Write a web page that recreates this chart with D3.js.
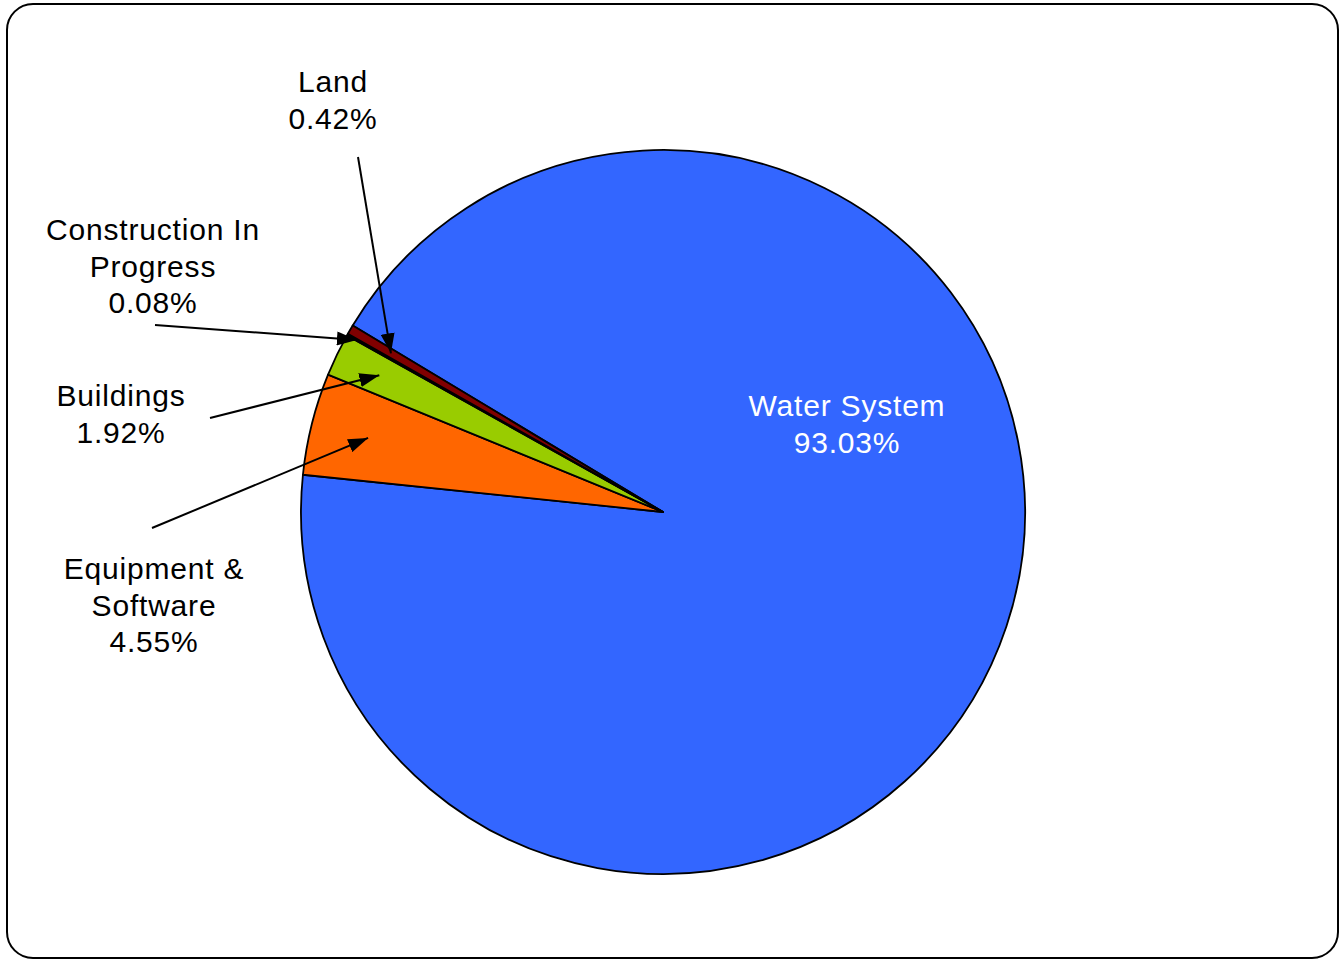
<!DOCTYPE html>
<html>
<head>
<meta charset="utf-8">
<script src="https://cdn.jsdelivr.net/npm/d3@7"></script>
<style>
  body { margin: 0; background: #fff; }
  text { font-family: "Liberation Sans", Arial, sans-serif; }
</style>
</head>
<body>
<div class="graph"></div>
<script>
const categories = ["Water System", "Equipment & Software", "Buildings", "Construction In Progress", "Land"];
const values = [93.03, 4.55, 1.92, 0.08, 0.42];
const colors = ["#3366FF", "#FF6600", "#99CC00", "#000000", "#800000"];

// label lines and anchors (layout only)
const labelLines = [
  ["Water System", "93.03%"],
  ["Equipment &", "Software", "4.55%"],
  ["Buildings", "1.92%"],
  ["Construction In", "Progress", "0.08%"],
  ["Land", "0.42%"]
];
const labelPos = [[847, 416], [154, 579], [121, 406], [153, 240], [333, 92]];
const leaderFrom = [null, [152, 528], [210, 418], [155, 325], [358, 157]];
const leaderDepth = [0, 0.84, 0.87, 0.97, 0.87];

const dimensions = { width: 1343, height: 961, cx: 663, cy: 512, r: 362 };

const svg = d3.select(".graph")
    .append("svg")
    .attr("width", dimensions.width)
    .attr("height", dimensions.height);

svg.append("defs").append("marker")
    .attr("id", "arrow")
    .attr("viewBox", "0 0 20 14")
    .attr("refX", 20)
    .attr("refY", 7)
    .attr("markerWidth", 20)
    .attr("markerHeight", 14)
    .attr("markerUnits", "userSpaceOnUse")
    .attr("orient", "auto")
    .append("path")
    .attr("d", "M0,0 L20,7 L0,14 Z")
    .attr("fill", "#000");

svg.append("rect")
    .attr("x", 7).attr("y", 4)
    .attr("width", 1331).attr("height", 954)
    .attr("rx", 26).attr("ry", 26)
    .attr("fill", "#fff")
    .attr("stroke", "#000")
    .attr("stroke-width", 2);

const deg = Math.PI / 180;
const pie = d3.pie()
    .sort(null)
    .startAngle(-59 * deg)
    .endAngle(301 * deg);

const arcs = pie(values);
const arc = d3.arc().innerRadius(0).outerRadius(dimensions.r);

const g = svg.append("g")
    .attr("transform", `translate(${dimensions.cx}, ${dimensions.cy})`);

g.selectAll("path.slice")
    .data(arcs)
    .enter()
    .append("path")
    .attr("class", "slice")
    .attr("d", arc)
    .attr("fill", (d, i) => colors[i])
    .attr("stroke", "#000")
    .attr("stroke-width", 1.8)
    .attr("stroke-linejoin", "round");

// leader arrows
arcs.forEach((d, i) => {
  if (!leaderFrom[i]) return;
  const a = (d.startAngle + d.endAngle) / 2;
  const rr = dimensions.r * leaderDepth[i];
  const tx = dimensions.cx + rr * Math.sin(a);
  const ty = dimensions.cy - rr * Math.cos(a);
  svg.append("line")
      .attr("x1", leaderFrom[i][0]).attr("y1", leaderFrom[i][1])
      .attr("x2", tx).attr("y2", ty)
      .attr("stroke", "#000")
      .attr("stroke-width", 2)
      .attr("marker-end", "url(#arrow)");
});

// labels
labelLines.forEach((lines, i) => {
  const t = svg.append("text")
      .attr("x", labelPos[i][0])
      .attr("y", labelPos[i][1])
      .attr("text-anchor", "middle")
      .attr("font-size", 30)
      .attr("letter-spacing", 0.8)
      .attr("fill", i === 0 ? "#fff" : "#000")
      .style("white-space", "pre");
  lines.forEach((s, k) => {
    t.append("tspan")
        .attr("x", labelPos[i][0])
        .attr("dy", k === 0 ? 0 : 36.5)
        .text(s);
  });
});
</script>
</body>
</html>
